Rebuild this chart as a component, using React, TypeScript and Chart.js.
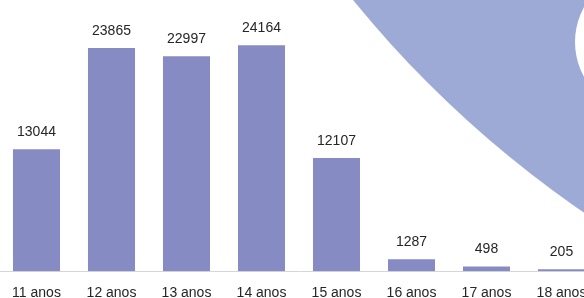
import React, { useEffect, useRef } from "react";
import { Chart, registerables } from "chart.js";

Chart.register(...registerables);

const categories = ["11 anos", "12 anos", "13 anos", "14 anos", "15 anos", "16 anos", "17 anos", "18 anos"];
const values = [13044, 23865, 22997, 24164, 12107, 1287, 498, 205];
const yMax = 29000;

const BAR_COLOR = "#878bc4";
const SHAPE_COLOR = "#9eaad6";
const TEXT_COLOR = "#262626";
const FONT = "'Liberation Sans', Arial, sans-serif";

const decorPlugin = {
  id: "decor",
  beforeDraw(chart: any) {
    const ctx = chart.ctx;
    const off = 1; // canvas is shifted 1px left of page
    ctx.save();
    ctx.fillStyle = SHAPE_COLOR;
    ctx.beginPath();
    ctx.arc(1207 + off, -695, 1101, 0, Math.PI * 2);
    ctx.fill();
    ctx.fillStyle = "#ffffff";
    ctx.beginPath();
    ctx.arc(647 + off, 42, 72, 0, Math.PI * 2);
    ctx.fill();
    ctx.restore();
  },
};

const labelPlugin = {
  id: "barLabels",
  afterDatasetsDraw(chart: any) {
    const ctx = chart.ctx;
    const meta = chart.getDatasetMeta(0);
    ctx.save();
    ctx.fillStyle = TEXT_COLOR;
    ctx.font = `14px ${FONT}`;
    ctx.textAlign = "center";
    ctx.textBaseline = "bottom";
    meta.data.forEach((bar: any, i: number) => {
      ctx.fillText(String(values[i]), bar.x, bar.y - 10);
    });
    ctx.restore();
  },
};

export default function App() {
  const ref = useRef<HTMLCanvasElement | null>(null);
  useEffect(() => {
    if (!ref.current) return;
    const chart = new Chart(ref.current, {
      type: "bar",
      data: {
        labels: categories,
        datasets: [
          {
            data: values,
            backgroundColor: BAR_COLOR,
            categoryPercentage: 1,
            barPercentage: 0.627,
          },
        ],
      },
      options: {
        animation: false,
        responsive: false,
        maintainAspectRatio: false,
        layout: { padding: 0 },
        plugins: { legend: { display: false }, tooltip: { enabled: false } },
        scales: {
          x: {
            grid: { display: false },
            border: { display: true, color: "#d6d6d6", width: 1 },
            ticks: { color: TEXT_COLOR, font: { family: FONT, size: 14 }, padding: 6, maxRotation: 0 },
          },
          y: { display: false, min: 0, max: yMax },
        },
      },
      plugins: [decorPlugin, labelPlugin],
    });
    return () => chart.destroy();
  }, []);
  return (
    <div style={{ position: "absolute", left: 0, top: 0, width: 584, height: 298, overflow: "hidden", background: "#fff" }}>
      <canvas ref={ref} width={600} height={308} style={{ position: "absolute", left: -1, top: 0, width: 600, height: 308 }} />
    </div>
  );
}
